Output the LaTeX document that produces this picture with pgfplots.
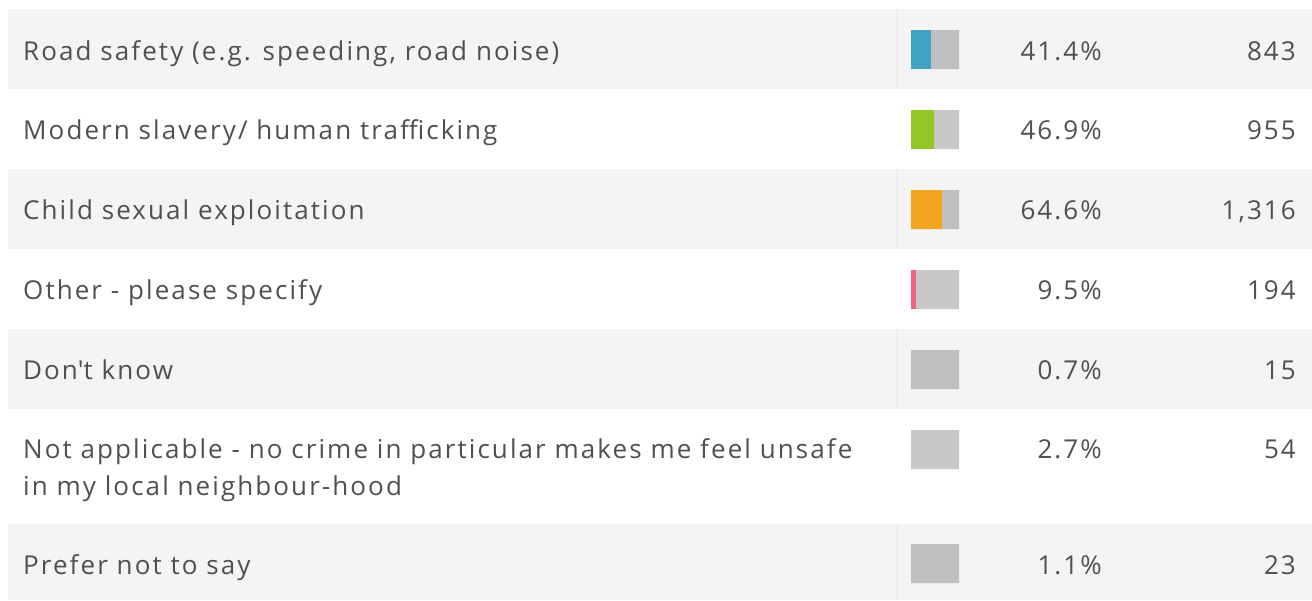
\documentclass[border=0pt]{standalone}
\usepackage{pgfplots}
\pgfplotsset{compat=1.18}
\usepackage{pgfplotstable}
\usepackage{fontspec}
\setmainfont{Open Sans}[LetterSpace=8]

\definecolor{rowgray}{HTML}{F4F4F4}
\definecolor{sepgray}{HTML}{E6E6E6}
\definecolor{bargrayA}{HTML}{C0C0C0}
\definecolor{bargrayB}{HTML}{C8C8C8}
\definecolor{txt}{HTML}{505050}
\definecolor{cblue}{HTML}{3FA3C3}
\definecolor{cgreen}{HTML}{93C726}
\definecolor{corange}{HTML}{F4A41C}
\definecolor{cpink}{HTML}{EE6582}

% y = baseline of the row text (pixels from the top)
\pgfplotstableread{
y     pct   n
60    41.4  843
139.5 46.9  955
219.5 64.6  1316
299.5 9.5   194
379.5 0.7   15
458   2.7   54
574   1.1   23
}\rows

\begin{document}
\begin{tikzpicture}
\newcommand\lab{\fontsize{26}{37}\selectfont}
\begin{axis}[
    at={(0,0)}, anchor=south west,
    scale only axis, width=1312pt, height=600pt,
    xmin=0, xmax=1312, ymin=0, ymax=600, y dir=reverse,
    axis lines=none, clip=false,
    /pgf/number format/assume math mode=true,
    every node near coord/.style={anchor=base east, inner sep=0pt, text=txt, font=\lab},
]
\path (axis cs:0,0) rectangle (axis cs:1312,600);
% striped rows
\fill[rowgray] (axis cs:8,9) rectangle (axis cs:1312,89);
\fill[rowgray] (axis cs:8,169) rectangle (axis cs:1312,249);
\fill[rowgray] (axis cs:8,329) rectangle (axis cs:1312,409);
\fill[rowgray] (axis cs:8,524) rectangle (axis cs:1312,600);
\draw[sepgray] (axis cs:897,9) -- (axis cs:897,89);
\draw[sepgray] (axis cs:897,169) -- (axis cs:897,249);
\draw[sepgray] (axis cs:897,329) -- (axis cs:897,409);
\draw[sepgray] (axis cs:897,524) -- (axis cs:897,600);

% row labels
\begin{scope}[every node/.style={anchor=base west, inner sep=0pt, text=txt, font=\lab}]
\node at (axis cs:23,60) {Road safety (e.g. speeding, road noise)};
\node at (axis cs:23,139.5) {Modern slavery/ human trafficking};
\node at (axis cs:23,219.5) {Child sexual exploitation};
\node at (axis cs:23,299.5) {Other - please specify};
\node at (axis cs:23,379.5) {Don\textquotesingle t know};
\node at (axis cs:23,458) {Not applicable - no crime in particular makes me feel unsafe};
\node at (axis cs:23,495) {in my local neighbour-hood};
\node at (axis cs:23,574) {Prefer not to say};
\end{scope}

% percent and count columns
\addplot[draw=none, point meta=explicit,
    nodes near coords={\pgfmathprintnumber[fixed,precision=1,fixed zerofill]{\pgfplotspointmeta}\%}]
    table[x expr=1102, y=y, meta=pct] {\rows};
\addplot[draw=none, point meta=explicit,
    nodes near coords={\pgfmathprintnumber[fixed,precision=0,1000 sep={,}]{\pgfplotspointmeta}}]
    table[x expr=1296, y=y, meta=n] {\rows};
\end{axis}

% small bars
\begin{axis}[
    at={(911pt,0)}, anchor=south west,
    scale only axis, width=48pt, height=600pt,
    xmin=0, xmax=100, ymin=0, ymax=600, y dir=reverse,
    axis lines=none, clip=false,
    xbar, bar width=39, bar shift=0pt,
]
\addplot[fill=bargrayA, draw=none] coordinates {(100,49.5) (100,209.5) (100,369.5) (100,563.5)};
\addplot[fill=bargrayB, draw=none] coordinates {(100,129.5) (100,289.5) (100,449.5)};
\addplot[fill=cblue, draw=none] coordinates {(41.4,49.5)};
\addplot[fill=cgreen, draw=none] coordinates {(46.9,129.5)};
\addplot[fill=corange, draw=none] coordinates {(64.6,209.5)};
\addplot[fill=cpink, draw=none] coordinates {(9.5,289.5)};
\addplot[fill=bargrayA, draw=none] coordinates {(0.7,369.5)};
\addplot[fill=bargrayB, draw=none] coordinates {(2.7,449.5)};
\addplot[fill=bargrayA, draw=none] coordinates {(1.1,563.5)};
\end{axis}
\end{tikzpicture}
\end{document}
